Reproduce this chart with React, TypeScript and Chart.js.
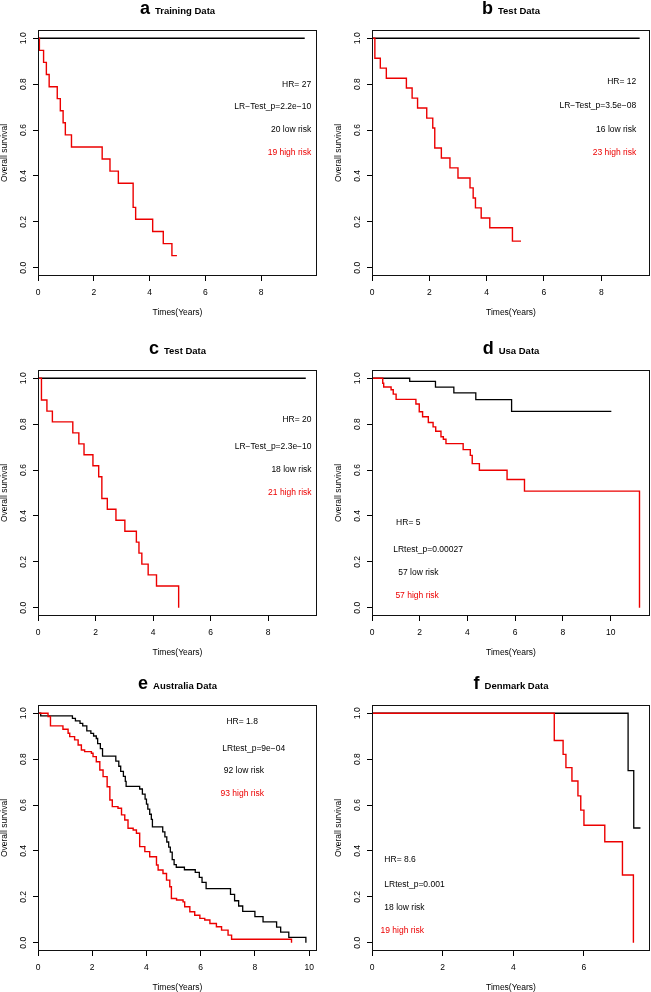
import React, { useEffect, useRef } from 'react';
import { Chart, registerables } from 'chart.js';

Chart.register(...registerables);

// ---------- data (time in years, survival probability) ----------
const yTickValues = [0, 0.2, 0.4, 0.6, 0.8, 1.0];
const xTicksTo8 = [0, 2, 4, 6, 8];
const xTicksTo10 = [0, 2, 4, 6, 8, 10];
const xTicksTo6 = [0, 2, 4, 6];

const panelLetters = ['a', 'b', 'c', 'd', 'e', 'f'];
const panelTitles = ['Training Data', 'Test Data', 'Test Data', 'Usa Data', 'Australia Data', 'Denmark Data'];
const panelXMax = [10, 9.7, 9.7, 11.65, 10.29, 7.87];

const aLowRisk = [[0, 1], [9.56, 1]];
const aHighRisk = [[0, 1], [0.05, 0.947], [0.2, 0.895], [0.3, 0.842], [0.4, 0.789], [0.69, 0.737], [0.8, 0.684], [0.9, 0.632], [0.98, 0.579], [1.2, 0.526], [2.3, 0.474], [2.58, 0.421], [2.88, 0.368], [3.41, 0.263], [3.5, 0.211], [4.11, 0.158], [4.49, 0.105], [4.8, 0.053], [4.98, 0.053]];

const bLowRisk = [[0, 1], [9.34, 1]];
const bHighRisk = [[0, 1], [0.1, 0.913], [0.29, 0.87], [0.5, 0.826], [1.2, 0.783], [1.4, 0.739], [1.59, 0.696], [1.91, 0.652], [2.12, 0.609], [2.19, 0.522], [2.42, 0.478], [2.72, 0.435], [3.0, 0.391], [3.42, 0.348], [3.53, 0.304], [3.61, 0.261], [3.81, 0.217], [4.11, 0.174], [4.9, 0.116], [5.2, 0.116]];

const cLowRisk = [[0, 1], [9.31, 1]];
const cHighRisk = [[0, 1], [0.12, 0.905], [0.31, 0.857], [0.5, 0.81], [1.21, 0.762], [1.42, 0.714], [1.6, 0.667], [1.91, 0.619], [2.11, 0.571], [2.22, 0.476], [2.41, 0.429], [2.71, 0.381], [3.02, 0.333], [3.42, 0.286], [3.51, 0.238], [3.61, 0.19], [3.83, 0.143], [4.12, 0.095], [4.89, 0]];

const dLowRisk = [[0, 1], [1.58, 0.986], [2.66, 0.961], [3.43, 0.936], [4.35, 0.907], [5.85, 0.856], [10.03, 0.856]];
const dHighRisk = [[0, 1], [0.45, 0.978], [0.49, 0.962], [0.8, 0.95], [0.89, 0.931], [1.01, 0.908], [1.84, 0.888], [1.98, 0.854], [2.12, 0.832], [2.36, 0.807], [2.56, 0.788], [2.67, 0.769], [2.89, 0.745], [2.99, 0.734], [3.1, 0.715], [3.82, 0.689], [4.12, 0.664], [4.2, 0.628], [4.5, 0.599], [5.66, 0.559], [6.39, 0.508], [11.21, 0]];

const eLowRisk = [[0, 1], [0.1, 0.989], [1.27, 0.978], [1.38, 0.967], [1.55, 0.956], [1.65, 0.945], [1.8, 0.923], [1.95, 0.912], [2.05, 0.901], [2.15, 0.89], [2.2, 0.868], [2.3, 0.846], [2.38, 0.813], [2.87, 0.791], [2.98, 0.769], [3.05, 0.747], [3.15, 0.725], [3.22, 0.703], [3.25, 0.681], [3.75, 0.67], [3.85, 0.648], [3.95, 0.626], [4.0, 0.604], [4.05, 0.582], [4.12, 0.56], [4.18, 0.538], [4.22, 0.505], [4.6, 0.483], [4.68, 0.461], [4.75, 0.439], [4.82, 0.417], [4.88, 0.395], [4.95, 0.362], [5.02, 0.34], [5.1, 0.329], [5.4, 0.318], [5.8, 0.307], [5.95, 0.285], [6.05, 0.263], [6.2, 0.236], [7.1, 0.211], [7.25, 0.183], [7.4, 0.16], [7.55, 0.137], [8.0, 0.114], [8.3, 0.091], [8.8, 0.068], [8.95, 0.046], [9.25, 0.023], [9.88, 0]];
const eHighRisk = [[0, 1], [0.37, 0.986], [0.46, 0.945], [0.92, 0.93], [1.11, 0.913], [1.17, 0.898], [1.35, 0.884], [1.48, 0.862], [1.6, 0.84], [1.72, 0.833], [1.97, 0.826], [2.03, 0.811], [2.15, 0.789], [2.28, 0.753], [2.4, 0.724], [2.55, 0.68], [2.65, 0.622], [2.74, 0.593], [2.95, 0.586], [3.08, 0.557], [3.2, 0.535], [3.32, 0.499], [3.51, 0.491], [3.63, 0.477], [3.75, 0.419], [3.94, 0.397], [4.12, 0.375], [4.37, 0.339], [4.43, 0.317], [4.61, 0.302], [4.74, 0.273], [4.86, 0.244], [4.92, 0.193], [5.11, 0.186], [5.35, 0.178], [5.41, 0.157], [5.6, 0.135], [5.78, 0.12], [5.97, 0.106], [6.15, 0.099], [6.34, 0.084], [6.58, 0.07], [6.77, 0.055], [7.01, 0.033], [7.14, 0.015], [9.35, 0]];

const fLowRisk = [[0, 1], [7.25, 0.75], [7.41, 0.5], [7.6, 0.5]];
const fHighRisk = [[0, 1], [5.16, 0.881], [5.41, 0.821], [5.49, 0.763], [5.66, 0.705], [5.83, 0.64], [5.91, 0.578], [6.0, 0.512], [6.59, 0.44], [7.09, 0.295], [7.4, 0]];

const aNotes = ['HR= 27', 'LR\u2212Test_p=2.2e\u221210', '20 low risk', '19 high risk'];
const bNotes = ['HR= 12', 'LR\u2212Test_p=3.5e\u221208', '16 low risk', '23 high risk'];
const cNotes = ['HR= 20', 'LR\u2212Test_p=2.3e\u221210', '18 low risk', '21 high risk'];
const dNotes = ['HR= 5', 'LRtest_p=0.00027', '57 low risk', '57 high risk'];
const eNotes = ['HR= 1.8', 'LRtest_p=9e\u221204', '92 low risk', '93 high risk'];
const fNotes = ['HR= 8.6', 'LRtest_p=0.001', '18 low risk', '19 high risk'];

// ---------- styling / layout ----------
const FONT = '"Liberation Sans", Arial, Helvetica, sans-serif';
const RED = 'rgb(236,0,0)';
const TXT = 8.5;

type NotePos = { x: number; y: number; align: CanvasTextAlign };

const panels = [
  { low: aLowRisk, high: aHighRisk, notes: aNotes, xTicks: xTicksTo8, col: 0, row: 0,
    pos: [{ x: 9.79, y: 0.8, align: 'right' }, { x: 9.79, y: 0.7, align: 'right' }, { x: 9.79, y: 0.6, align: 'right' }, { x: 9.79, y: 0.5, align: 'right' }] },
  { low: bLowRisk, high: bHighRisk, notes: bNotes, xTicks: xTicksTo8, col: 1, row: 0,
    pos: [{ x: 9.22, y: 0.81, align: 'right' }, { x: 9.22, y: 0.705, align: 'right' }, { x: 9.22, y: 0.603, align: 'right' }, { x: 9.22, y: 0.503, align: 'right' }] },
  { low: cLowRisk, high: cHighRisk, notes: cNotes, xTicks: xTicksTo8, col: 0, row: 1,
    pos: [{ x: 9.51, y: 0.818, align: 'right' }, { x: 9.51, y: 0.702, align: 'right' }, { x: 9.51, y: 0.603, align: 'right' }, { x: 9.51, y: 0.5, align: 'right' }] },
  { low: dLowRisk, high: dHighRisk, notes: dNotes, xTicks: xTicksTo10, col: 1, row: 1,
    pos: [{ x: 1.01, y: 0.371, align: 'left' }, { x: 0.89, y: 0.255, align: 'left' }, { x: 1.1, y: 0.155, align: 'left' }, { x: 0.98, y: 0.053, align: 'left' }] },
  { low: eLowRisk, high: eHighRisk, notes: eNotes, xTicks: xTicksTo10, col: 0, row: 2,
    pos: [{ x: 6.95, y: 0.963, align: 'left' }, { x: 6.8, y: 0.847, align: 'left' }, { x: 6.85, y: 0.75, align: 'left' }, { x: 6.73, y: 0.648, align: 'left' }] },
  { low: fLowRisk, high: fHighRisk, notes: fNotes, xTicks: xTicksTo6, col: 1, row: 2,
    pos: [{ x: 0.35, y: 0.364, align: 'left' }, { x: 0.35, y: 0.252, align: 'left' }, { x: 0.35, y: 0.155, align: 'left' }, { x: 0.24, y: 0.053, align: 'left' }] },
];

const colRects = [
  { left: 0, width: 325, padL: 0, padR: 8 },
  { left: 325, width: 326, padL: 9, padR: 1 },
];
const rowRects = [
  { top: 0, height: 330, padT: 30, padB: 13 },
  { top: 330, height: 330, padT: 40, padB: 3 },
  { top: 660, height: 332, padT: 45, padB: 0 },
];

const boxPlugin = {
  id: 'kmBox',
  afterDraw(chart: any) {
    const { ctx, chartArea } = chart;
    ctx.save();
    ctx.strokeStyle = '#111';
    ctx.lineWidth = 1;
    const l = Math.round(chartArea.left) + 0.5;
    const t = Math.round(chartArea.top) + 0.5;
    const r = Math.round(chartArea.right) - 0.5;
    const b = Math.round(chartArea.bottom) - 0.5;
    ctx.strokeRect(l, t, r - l, b - t);
    ctx.restore();
  },
};

const notesPlugin = {
  id: 'kmNotes',
  afterDatasetsDraw(chart: any, _args: any, opts: any) {
    const { ctx, scales } = chart;
    const notes: string[] = opts.notes || [];
    const pos: NotePos[] = opts.pos || [];
    ctx.save();
    ctx.font = `${TXT}px ${FONT}`;
    ctx.textBaseline = 'middle';
    notes.forEach((t, i) => {
      const p = pos[i];
      ctx.fillStyle = i === 3 ? RED : '#000';
      ctx.textAlign = p.align;
      ctx.fillText(t, scales.x.getPixelForValue(p.x), scales.y.getPixelForValue(p.y));
    });
    ctx.restore();
  },
};

const titlePlugin = {
  id: 'kmTitle',
  afterDraw(chart: any, _args: any, opts: any) {
    const { ctx, chartArea } = chart;
    ctx.save();
    ctx.fillStyle = '#000';
    ctx.textBaseline = 'alphabetic';
    ctx.textAlign = 'left';
    const bigFont = `bold 18px ${FONT}`;
    const smallFont = `bold 9.5px ${FONT}`;
    ctx.font = bigFont;
    const wl = ctx.measureText(opts.letter).width;
    ctx.font = smallFont;
    const wt = ctx.measureText(opts.text).width;
    const gap = 5;
    const total = wl + gap + wt;
    const x0 = (chartArea.left + chartArea.right) / 2 - total / 2;
    const y = chartArea.top - 16;
    ctx.font = bigFont;
    ctx.fillText(opts.letter, x0, y);
    ctx.font = smallFont;
    ctx.fillText(opts.text, x0 + wl + gap, y);
    ctx.restore();
  },
};

function makeConfig(i: number): any {
  const p = panels[i];
  const c = colRects[p.col];
  const r = rowRects[p.row];
  const tickFont = { family: FONT, size: TXT, lineHeight: 1.2 };
  const titleFont = { family: FONT, size: TXT, lineHeight: 1 };
  return {
    type: 'line',
    data: {
      datasets: [
        {
          label: 'high risk',
          data: p.high.map(([x, y]) => ({ x, y })),
          borderColor: RED,
          borderWidth: 1.4,
          stepped: 'before',
          pointRadius: 0,
          fill: false,
        },
        {
          label: 'low risk',
          data: p.low.map(([x, y]) => ({ x, y })),
          borderColor: '#000',
          borderWidth: 1.3,
          stepped: 'before',
          pointRadius: 0,
          fill: false,
        },
      ],
    },
    options: {
      animation: false,
      responsive: false,
      maintainAspectRatio: false,
      devicePixelRatio: 1,
      events: [],
      layout: { padding: { left: c.padL, right: c.padR, top: r.padT, bottom: r.padB } },
      plugins: {
        legend: { display: false },
        tooltip: { enabled: false },
        title: { display: false },
        kmNotes: { notes: p.notes, pos: p.pos },
        kmTitle: { letter: panelLetters[i], text: panelTitles[i] },
      },
      scales: {
        x: {
          type: 'linear',
          min: 0,
          max: panelXMax[i],
          afterBuildTicks: (s: any) => {
            s.ticks = p.xTicks.map((v) => ({ value: v }));
          },
          afterFit: (s: any) => {
            s.height = 41;
          },
          ticks: {
            font: tickFont,
            color: '#000',
            padding: 6.5,
            maxRotation: 0,
            minRotation: 0,
            autoSkip: false,
            callback: (v: any) => String(v),
          },
          grid: { display: true, drawOnChartArea: false, drawTicks: true, tickLength: 5, color: '#000', lineWidth: 1 },
          border: { display: false },
          title: { display: true, text: 'Times(Years)', font: titleFont, color: '#000', padding: 0 },
        },
        y: {
          type: 'linear',
          min: -0.036,
          max: 1.036,
          afterBuildTicks: (s: any) => {
            s.ticks = yTickValues.map((v) => ({ value: v }));
          },
          afterFit: (s: any) => {
            s.width = 38;
          },
          ticks: {
            font: tickFont,
            color: '#000',
            padding: 3.5,
            minRotation: 90,
            maxRotation: 90,
            crossAlign: 'center',
            autoSkip: false,
            callback: (v: any) => Number(v).toFixed(1),
          },
          grid: { display: true, drawOnChartArea: false, drawTicks: true, tickLength: 5, color: '#000', lineWidth: 1 },
          border: { display: false },
          title: { display: true, text: 'Overall survival', font: titleFont, color: '#000', padding: 0 },
        },
      },
    },
    plugins: [boxPlugin, notesPlugin, titlePlugin],
  };
}

function Panel({ index }: { index: number }) {
  const ref = useRef<HTMLCanvasElement | null>(null);
  const p = panels[index];
  const c = colRects[p.col];
  const r = rowRects[p.row];
  useEffect(() => {
    if (!ref.current) return;
    const chart = new Chart(ref.current, makeConfig(index));
    return () => chart.destroy();
  }, [index]);
  return (
    <canvas
      ref={ref}
      width={c.width}
      height={r.height}
      style={{ position: 'absolute', left: c.left, top: r.top, width: c.width, height: r.height, display: 'block' }}
    />
  );
}

export default function App() {
  return (
    <div style={{ position: 'absolute', left: 0, top: 0, width: 651, height: 992, background: '#fff', overflow: 'hidden' }}>
      {panels.map((_, i) => (
        <Panel key={i} index={i} />
      ))}
    </div>
  );
}
